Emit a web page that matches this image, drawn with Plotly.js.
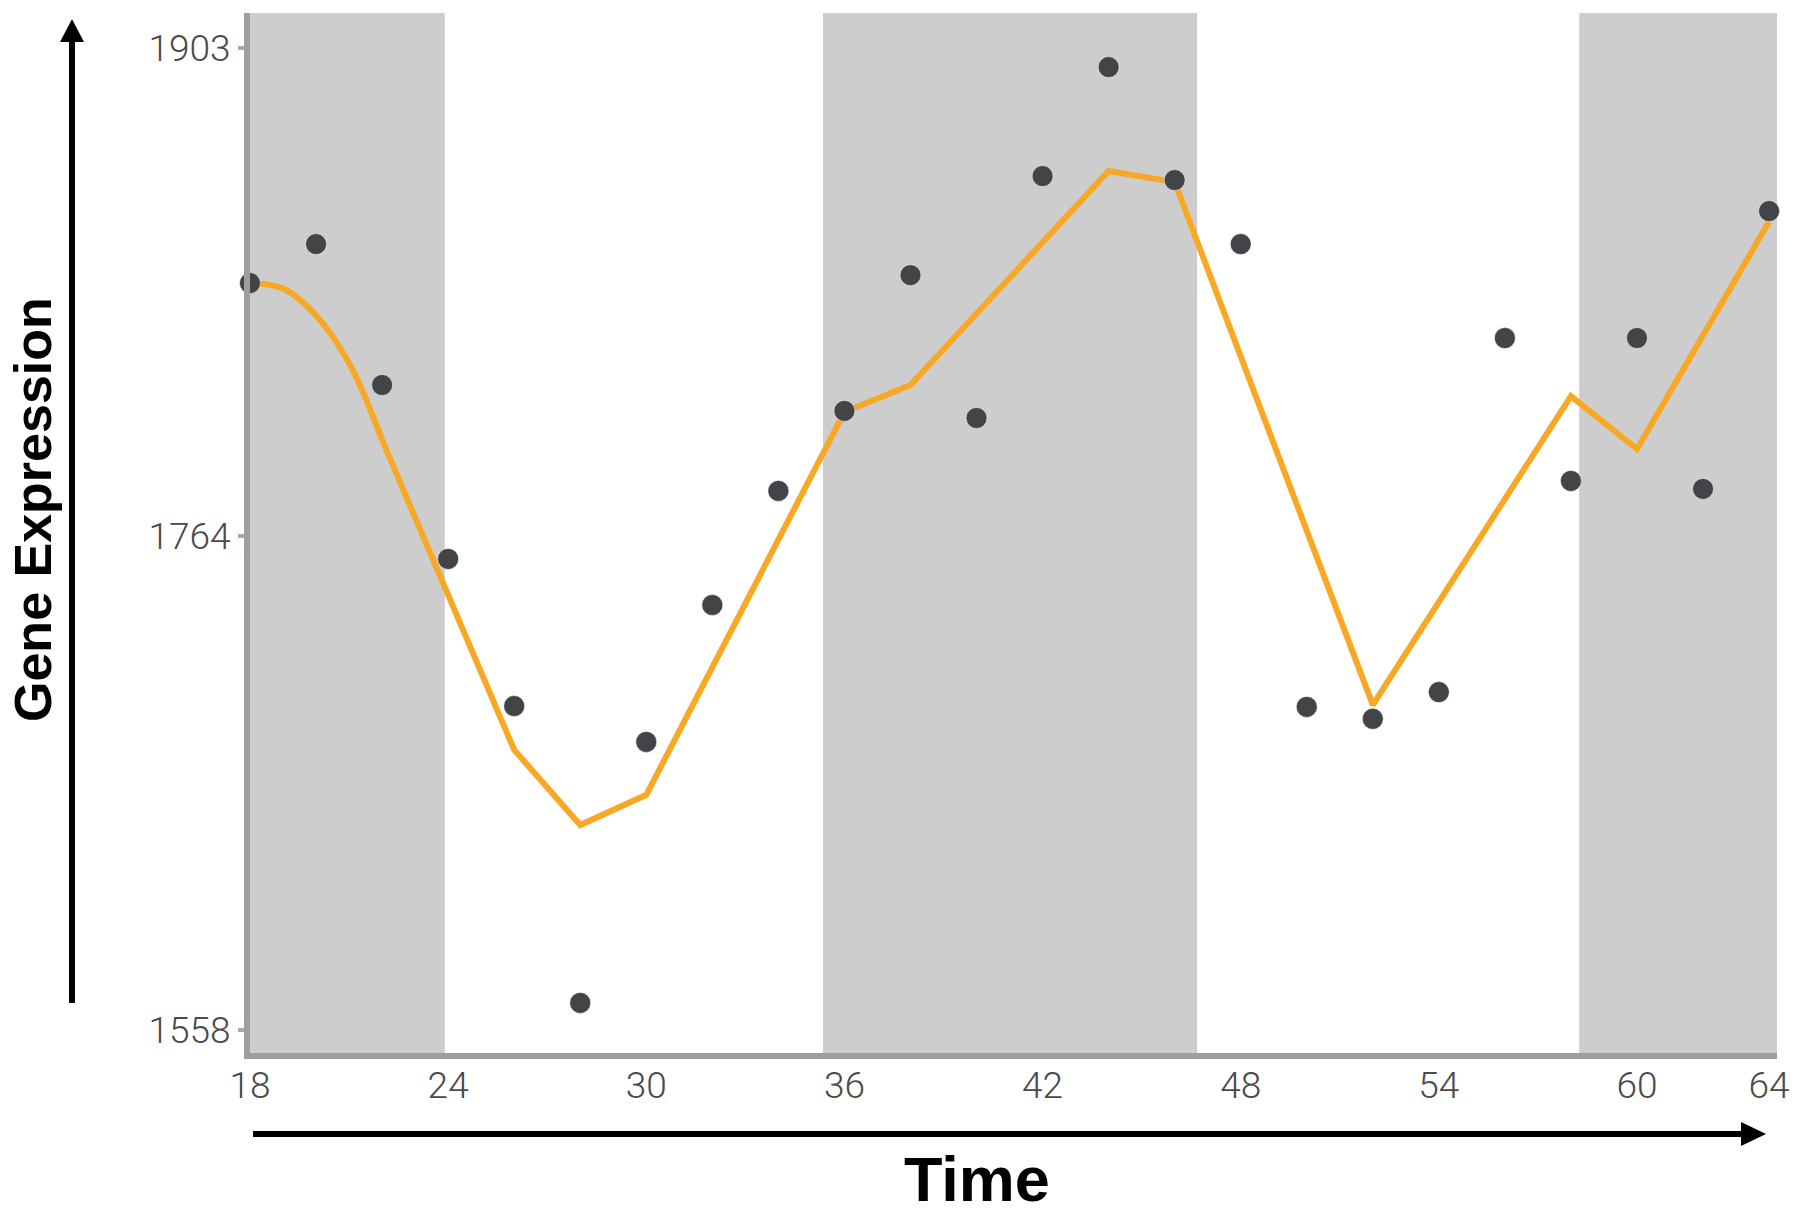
<!DOCTYPE html>
<html>
<head>
<meta charset="utf-8">
<script src="https://cdn.plot.ly/plotly-3.0.1.min.js"></script>
<style>
  html, body { margin: 0; padding: 0; background: #ffffff; }
  #chart { width: 1800px; height: 1216px; }
</style>
</head>
<body>
<div id="chart"></div>
<script>
// ---- Data ----
const time = [18, 20, 22, 24, 26, 28, 30, 32, 34, 36, 38, 40, 42, 44, 46, 48, 50, 52, 54, 56, 58, 60, 62, 64];
const expression = [1820.4, 1834.1, 1784.6, 1723.5, 1671.8, 1567.5, 1659.2, 1707.3, 1747.4, 1775.5, 1823.2, 1773.0,
                    1858.0, 1896.3, 1856.6, 1834.1, 1671.5, 1667.3, 1676.7, 1801.1, 1750.9, 1801.1, 1748.1, 1845.7];

// fitted trend: smooth start, then straight segments
const fitCurveTime = [18, 19, 20, 21, 22];
const fitCurveExpr = [1820.4, 1818.5, 1809.0, 1792.3, 1765.3];
const fitLineTime = [22, 26, 28, 30, 36, 38, 44, 46, 52, 58, 60, 64];
const fitLineExpr = [1765.3, 1656.4, 1630.0, 1640.6, 1775.1, 1784.6, 1859.8, 1855.9, 1672.2, 1780.7, 1762.1, 1842.0];

// shaded (dark) periods
const shadeStart = [18, 35.35, 58.25];
const shadeEnd = [23.9, 46.68, 64.24];

// tick labels
const xTickVals = [18, 24, 30, 36, 42, 48, 54, 60, 64];
const xTickText = ['18', '24', '30', '36', '42', '48', '54', '60', '64'];
const yTickVals = [1558, 1731.6, 1903];
const yTickText = ['1558', '1764', '1903'];

// ---- Layout geometry ----
const W = 1800, H = 1216;
const M = {l: 250, r: 23, t: 13, b: 163};
const PW = W - M.l - M.r, PH = H - M.t - M.b;
const px2x = p => (p - M.l) / PW;
const py2y = p => (H - M.b - p) / PH;

const traces = [
  {
    x: fitCurveTime, y: fitCurveExpr, type: 'scatter', mode: 'lines',
    line: {color: 'rgb(249,168,37)', width: 6, shape: 'spline'},
    hoverinfo: 'skip'
  },
  {
    x: fitLineTime, y: fitLineExpr, type: 'scatter', mode: 'lines',
    line: {color: 'rgb(249,168,37)', width: 6, shape: 'linear'},
    hoverinfo: 'skip'
  },
  {
    x: time, y: expression, type: 'scatter', mode: 'markers',
    marker: {color: 'rgb(66,68,71)', size: 21, line: {color: 'rgba(255,255,255,0.5)', width: 1}},
    cliponaxis: false
  }
];

const shapes = shadeStart.map((s, i) => ({
  type: 'rect', xref: 'x', yref: 'paper', x0: s, x1: shadeEnd[i], y0: 0, y1: 1,
  fillcolor: 'rgb(204,205,204)', line: {width: 0}, layer: 'below'
}));

// vertical arrow (left)
const vx = px2x(72);
shapes.push({type: 'line', xref: 'paper', yref: 'paper', x0: vx, x1: vx, y0: py2y(1003), y1: py2y(38),
  line: {color: '#000000', width: 6}, layer: 'above'});
shapes.push({type: 'path', xref: 'paper', yref: 'paper',
  path: `M ${px2x(72)} ${py2y(19)} L ${px2x(60)} ${py2y(42)} L ${px2x(84)} ${py2y(42)} Z`,
  fillcolor: '#000000', line: {width: 0}, layer: 'above'});
// horizontal arrow (bottom)
const hy = py2y(1134);
shapes.push({type: 'line', xref: 'paper', yref: 'paper', x0: px2x(253), x1: px2x(1745), y0: hy, y1: hy,
  line: {color: '#000000', width: 6}, layer: 'above'});
shapes.push({type: 'path', xref: 'paper', yref: 'paper',
  path: `M ${px2x(1766)} ${py2y(1134)} L ${px2x(1741)} ${py2y(1122)} L ${px2x(1741)} ${py2y(1146)} Z`,
  fillcolor: '#000000', line: {width: 0}, layer: 'above'});

const tickFont = {family: 'Roboto, "Open Sans", sans-serif', size: 37, color: '#4a4a4a', weight: 300};

const layout = {
  width: W, height: H,
  margin: M,
  paper_bgcolor: '#ffffff', plot_bgcolor: '#ffffff',
  showlegend: false,
  xaxis: {
    range: [18, 64.24], showgrid: false, zeroline: false,
    showline: true, linecolor: 'rgb(158,158,158)', linewidth: 6,
    tickmode: 'array', tickvals: xTickVals, ticktext: xTickText,
    ticks: '', tickfont: tickFont, ticklabelstandoff: -5
  },
  yaxis: {
    range: [1549.9, 1915.3], showgrid: false, zeroline: false,
    showline: true, linecolor: 'rgb(158,158,158)', linewidth: 6,
    tickmode: 'array', tickvals: yTickVals, ticktext: yTickText,
    ticks: 'outside', ticklen: 6, tickwidth: 4, tickcolor: 'rgb(170,170,170)',
    tickfont: tickFont
  },
  shapes: shapes,
  annotations: [
    {text: 'Gene Expression', xref: 'paper', yref: 'paper', x: px2x(33), y: py2y(509),
     xanchor: 'center', yanchor: 'middle', textangle: -90, showarrow: false,
     font: {family: '"Liberation Sans", Arial, sans-serif', size: 52, color: '#000000', weight: 700}},
    {text: 'Time', xref: 'paper', yref: 'paper', x: px2x(977), y: py2y(1179),
     xanchor: 'center', yanchor: 'middle', showarrow: false,
     font: {family: '"Liberation Sans", Arial, sans-serif', size: 63, color: '#000000', weight: 700}}
  ]
};

Plotly.newPlot('chart', traces, layout, {displayModeBar: false, staticPlot: true});
</script>
</body>
</html>
